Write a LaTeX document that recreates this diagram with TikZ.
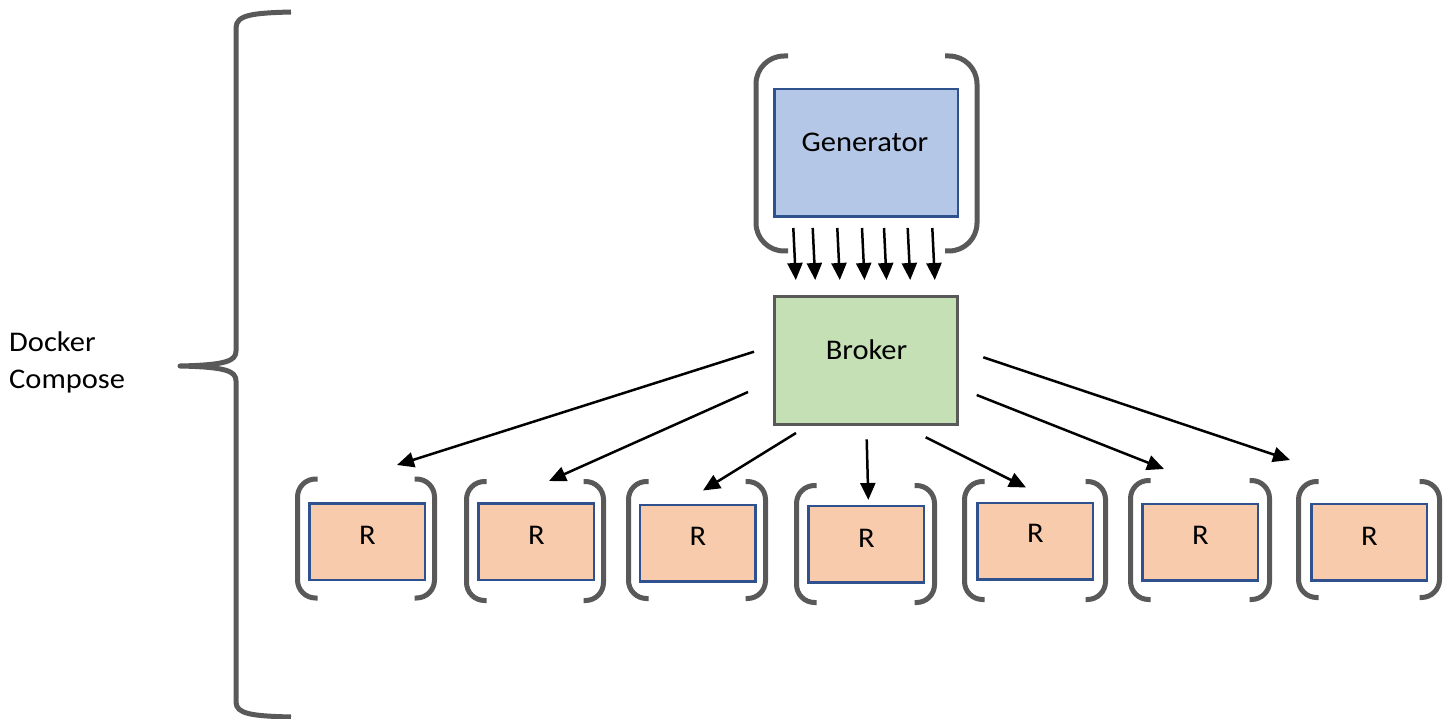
\documentclass[tikz,border=0pt]{standalone}
\usepackage{fontspec}
\setmainfont{Carlito}[FakeStretch=1.07]
\usetikzlibrary{arrows.meta}
\definecolor{brk}{HTML}{595959}
\definecolor{gfill}{HTML}{B4C7E7}
\definecolor{bline}{HTML}{2F528F}
\definecolor{brfill}{HTML}{C5E0B4}
\definecolor{rfill}{HTML}{F8CBAD}
\newcommand\brpair[6]{%
  \draw[brline, rounded corners=#6] ({#1+#5},#3) -- (#1,#3) -- (#1,#4) -- ({#1+#5},#4);
  \draw[brline, rounded corners=#6] ({#2-#5},#3) -- (#2,#3) -- (#2,#4) -- ({#2-#5},#4);}
\begin{document}
\begin{tikzpicture}[x=1pt,y=-1pt,
  brline/.style={draw=brk, line width=5pt},
  genbox/.style={draw=bline, fill=gfill, line width=2.5pt, minimum width=183.5pt, minimum height=127.5pt, inner sep=0pt},
  brokerbox/.style={draw=brk, fill=brfill, line width=3pt, minimum width=183pt, minimum height=128pt, inner sep=0pt},
  rbox/.style={draw=bline, fill=rfill, line width=2.5pt, minimum width=115.5pt, minimum height=76.5pt, inner sep=0pt},
  lbl/.style={font=\fontsize{28.5}{34}\selectfont, inner sep=0pt},
  arr/.style={line width=2.5pt, -{Triangle[length=17pt,width=15pt]}}]
\useasboundingbox (0,0) rectangle (1455,719);
% big brace
\draw[brline, line join=round] (291,12) .. controls (252,13) and (236,15) .. (236,28)
  -- (236,351) .. controls (236,361) and (226,365) .. (180,366)
  .. controls (226,367) and (236,371) .. (236,381)
  -- (236,702) .. controls (236,714) and (252,716) .. (291,717);
\node[lbl, anchor=base west] (docker) at (9,351) {Docker};
\node[lbl, anchor=base west] (compose) at (9,388) {Compose};
% generator
\brpair{756}{977}{56}{251}{32}{28}
\node[genbox] (gen) at (866,153) {};
\node[lbl, anchor=base] (gentext) at (865,152) {Generator};
% broker
\node[brokerbox] (broker) at (866,360.5) {};
\node[lbl, anchor=base] (brokertext) at (866.5,359) {Broker};
% generator -> broker arrows
\foreach \i/\xa in {1/793.3,2/812.7,3/837.3,4/862,5/884,6/907.7,7/932.3}{
  \coordinate (gs\i) at (\xa,228);
  \coordinate (ge\i) at ({\xa+2.5},280);
  \draw[arr] (gs\i) -- (ge\i);
}
% replicas
\foreach \i/\cx/\cy/\ty/\bl/\br/\bt/\bb in {
  1/367/541.5/535/297.5/434.5/479/598,
  2/536/541.5/535.3/466.5/603.5/481.5/600.5,
  3/697.5/543/536.5/628.5/765.5/481.5/598.5,
  4/866/544/538/796.5/934.5/485.5/602.5,
  5/1035/541/533.5/964.5/1105.5/481.5/599.5,
  6/1200/542/535.5/1130.5/1269.5/480.5/599.5,
  7/1369/542/536/1298.5/1439.5/481.5/597.5}{
  \brpair{\bl}{\br}{\bt}{\bb}{20}{18}
  \node[rbox] (r\i) at (\cx,\cy) {};
  \node[lbl] (rt\i) at ({\cx+0.5},\ty) {R};
}
% broker -> replica arrows
\foreach \i/\sx/\sy/\ex/\ey in {
  1/754/351.7/397/465,
  2/748/392/549/481,
  3/796/433/703/490.5,
  4/866.7/439.3/868.3/500,
  5/925.7/437.3/1026/487.5,
  6/976.7/395/1164/469,
  7/983.3/357.3/1290/460}{
  \coordinate (bs\i) at (\sx,\sy);
  \coordinate (be\i) at (\ex,\ey);
  \draw[arr] (bs\i) -- (be\i);
}
\end{tikzpicture}
\end{document}
